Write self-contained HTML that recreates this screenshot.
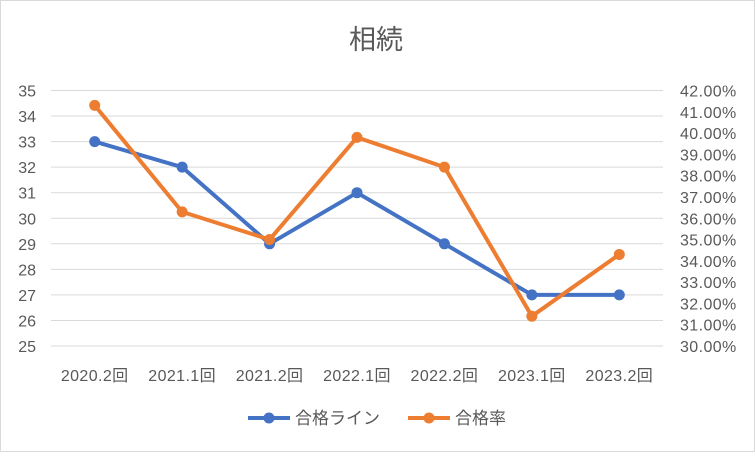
<!DOCTYPE html>
<html><head><meta charset="utf-8"><style>
html,body{margin:0;padding:0;background:#fff}
svg{display:block;font-family:"Liberation Sans","Noto Sans CJK JP",sans-serif}
</style></head><body>
<svg id="chart" width="755" height="458">
<rect x="0.5" y="0.5" width="754" height="451" fill="#fff" stroke="#d9d9d9"/>
<text x="376" y="49" text-anchor="middle" font-size="27" fill="#595959">相続</text>
<g id="grid"></g><g id="axes"></g><g id="series"></g>
<g>
<g>
<line x1="248" y1="418" x2="290" y2="418" stroke="#4472c4" stroke-width="4"/>
<circle cx="269" cy="418" r="5.5" fill="#4472c4"/>
<text x="295" y="424" font-size="17" fill="#595959">合格ライン</text></g>
<g>
<line x1="408" y1="418" x2="450" y2="418" stroke="#ed7d31" stroke-width="4"/>
<circle cx="429" cy="418" r="5.5" fill="#ed7d31"/>
<text x="455" y="424" font-size="17" fill="#595959">合格率</text></g>
</g>
</svg>
<script>
const categories=["2020.2回","2021.1回","2021.2回","2022.1回","2022.2回","2023.1回","2023.2回"];
const passLine=[33,32,29,31,29,27,27];
const passRate=[41.3,36.3,35.0,39.8,38.4,31.4,34.3];
const leftTicks=[25,26,27,28,29,30,31,32,33,34,35];
const rightTicks=[30,31,32,33,34,35,36,37,38,39,40,41,42];
const NS="http://www.w3.org/2000/svg";
const x0=51,x1=663,yTop=90.5,yBot=346;
const step=(x1-x0)/categories.length;
const xs=i=>x0+step*(i+0.5);
const yL=v=>yBot-(v-25)/(35-25)*(yBot-yTop);
const yR=v=>yBot-(v-30)/(42-30)*(yBot-yTop);
function mk(tag,attrs,parent){const e=document.createElementNS(NS,tag);for(const k in attrs)e.setAttribute(k,attrs[k]);parent.appendChild(e);return e;}
const grid=document.getElementById('grid'),axes=document.getElementById('axes'),ser=document.getElementById('series');
leftTicks.forEach(v=>{
 const l=mk('line',{x1:x0,x2:x1,y1:yL(v),y2:yL(v),stroke:'#d9d9d9','stroke-width':1},grid);
 
 
 const t=mk('text',{x:36,y:yL(v)+6,'text-anchor':'end','font-size':16,fill:'#595959'},axes);
 t.textContent=v;
 
 
});
rightTicks.forEach(v=>{
 const t=mk('text',{x:680,y:yR(v)+6,'font-size':16,'letter-spacing':'0.4',fill:'#595959'},axes);
 t.textContent=v.toFixed(2)+'%';
 
 
});
categories.forEach((c,i)=>{
 const t=mk('text',{x:xs(i),y:381,'text-anchor':'middle','font-size':16,'letter-spacing':'0.4',fill:'#595959'},axes);
 t.textContent=c;
 
 
});
function series(vals,yf,color,name){
 const p=mk('polyline',{points:vals.map((v,i)=>xs(i)+','+yf(v)).join(' '),fill:'none',stroke:color,'stroke-width':4,'stroke-linejoin':'round'},ser);
 
 
 vals.forEach((v,i)=>{
  const c=mk('circle',{cx:xs(i),cy:yf(v),r:5.5,fill:color},ser);
  
  
 });
}
series(passLine,yL,'#4472c4','pass-line');
series(passRate,yR,'#ed7d31','pass-rate');
</script>
</body></html>
